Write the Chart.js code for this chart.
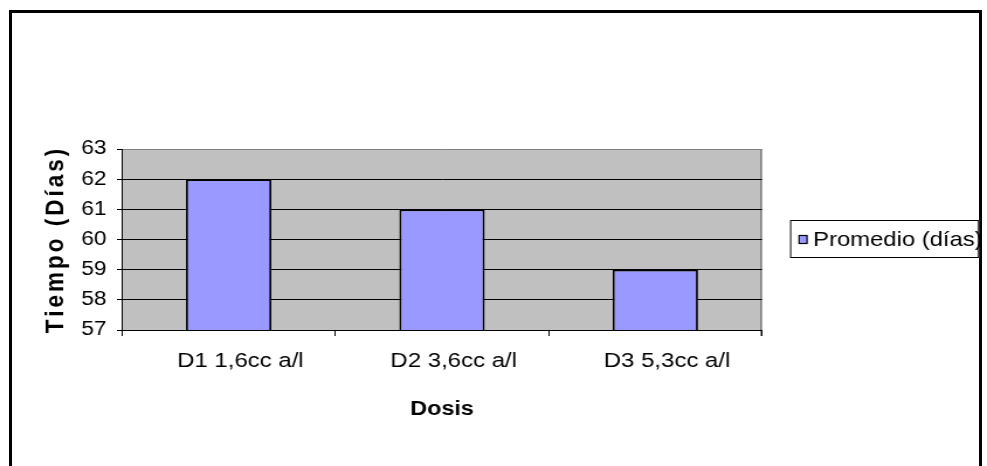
<!DOCTYPE html>
<html>
<head>
<meta charset="utf-8">
<script src="https://cdn.jsdelivr.net/npm/chart.js@4/dist/chart.umd.min.js"></script>
<style>
  html, body { margin: 0; padding: 0; background: #fff; width: 987px; height: 466px; overflow: hidden; }
  #frame { position: absolute; left: 9px; top: 10px; width: 973px; height: 600px; border: 3px solid #000; box-sizing: border-box; }
  /* the chart is laid out on a narrower canvas and widened, like the stretched Excel object */
  #chart { position: absolute; left: 0; top: 0; transform: scaleX(1.16943); transform-origin: 0 0; }
</style>
</head>
<body>
<div id="frame"></div>
<canvas id="chart" width="844" height="466"></canvas>
<script>
// ---- data ----
const categories = ['D1 1,6cc a/l', 'D2 3,6cc a/l', 'D3 5,3cc a/l'];
const promedioDias = [62, 61, 59];
const seriesLabel = 'Promedio (días)';
const yMin = 57;
const yMax = 63;
const yStep = 1;
const xTitle = 'Dosis';
const yTitle = 'Tiempo (Días)';

// ---- styles ----
const BAR_FILL = '#9999FF';
const PLOT_BG = '#C0C0C0';
const PLOT_EDGE = '#808080';
const FONT = '"Liberation Sans", Arial, sans-serif';

Chart.defaults.font.family = FONT;
Chart.defaults.color = '#000';

// grey plot area with its grey edge on the right
const plotArea = {
  id: 'plotArea',
  beforeDraw(chart) {
    const { ctx, chartArea: a } = chart;
    ctx.save();
    ctx.fillStyle = PLOT_BG;
    ctx.fillRect(a.left, a.top, a.right - a.left, a.bottom - a.top);
    ctx.strokeStyle = PLOT_EDGE;
    ctx.lineWidth = 1.5;
    ctx.beginPath();
    ctx.moveTo(a.right - 0.75, a.top);
    ctx.lineTo(a.right - 0.75, a.bottom + 6);
    ctx.stroke();
    ctx.restore();

    // wide letter spacing for the vertical axis title
    const ys = chart.scales.y;
    if (ys && !ys._spacedTitle) {
      const base = ys.drawTitle;
      ys.drawTitle = function () {
        const c = this.ctx;
        c.save();
        c.letterSpacing = '3px';
        base.call(this);
        c.restore();
      };
      ys._spacedTitle = true;
    }
  }
};

// boxed legend to the right of the plot
const boxedLegend = {
  id: 'boxedLegend',
  afterDraw(chart) {
    const { ctx, chartArea: a } = chart;
    const ds = chart.data.datasets[0];
    const x0 = a.right + 24;
    const h = 38;
    const y0 = (a.top + a.bottom) / 2 - h / 2 - 0.5;
    const w = 161.6;
    ctx.save();
    ctx.fillStyle = '#fff';
    ctx.fillRect(x0, y0, w, h);
    ctx.strokeStyle = '#000';
    ctx.lineWidth = 1;
    ctx.strokeRect(x0 + 0.5, y0 + 0.5, w - 1, h - 1);
    const cy = y0 + h / 2 + 0.5;
    ctx.fillStyle = ds.backgroundColor;
    ctx.fillRect(x0 + 7.7, cy - 4, 6.8, 8);
    ctx.lineWidth = 1.2;
    ctx.strokeRect(x0 + 7.7, cy - 4, 6.8, 8);
    ctx.fillStyle = '#000';
    ctx.font = '20.4px ' + FONT;
    ctx.textBaseline = 'middle';
    ctx.textAlign = 'left';
    ctx.fillText(ds.label, x0 + 19.7, cy + 0.5);
    ctx.restore();
  }
};

new Chart(document.getElementById('chart'), {
  type: 'bar',
  data: {
    labels: categories,
    datasets: [{
      label: seriesLabel,
      data: promedioDias,
      backgroundColor: BAR_FILL,
      borderColor: '#000',
      borderWidth: 1.8,
      barPercentage: 0.4,
      categoryPercentage: 1
    }]
  },
  options: {
    responsive: false,
    animation: false,
    layout: { padding: { left: 0, right: 192.4, top: 149, bottom: 0 } },
    plugins: {
      legend: { display: false },
      tooltip: { enabled: false }
    },
    scales: {
      x: {
        afterFit(s) { s.height = 136; },
        grid: { offset: true, drawOnChartArea: false, drawTicks: true, tickLength: 6, color: '#000' },
        border: { color: '#000', width: 1 },
        ticks: { padding: 12.7, labelOffset: 10, color: '#000', font: { size: 20.5 } },
        title: {
          display: true, text: xTitle, color: '#000',
          font: { size: 20, weight: 'bold' },
          padding: { top: 0, bottom: 44.5 }
        }
      },
      y: {
        min: yMin,
        max: yMax,
        afterFit(s) { s.width = 104.3; },
        grid: {
          color: c => (c.tick && c.tick.value === yMax) ? PLOT_EDGE : '#000',
          tickColor: '#000',
          tickLength: 4.3,
          lineWidth: 1
        },
        border: { color: '#000', width: 1 },
        ticks: { stepSize: yStep, padding: 8.8, color: '#000', font: { size: 19.5 } },
        title: {
          display: true, text: yTitle, color: '#000',
          font: { size: 22.5, weight: 'bold' },
          padding: { top: 34.5, bottom: 0 }
        }
      }
    }
  },
  plugins: [plotArea, boxedLegend]
});
</script>
</body>
</html>
